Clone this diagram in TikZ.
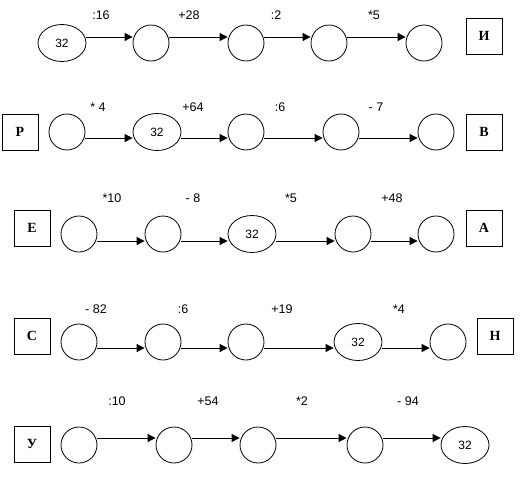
\documentclass[tikz,border=0pt]{standalone}
\usepackage{fontspec}
\setmainfont{Liberation Serif}
\setsansfont{Liberation Sans}
\usetikzlibrary{arrows.meta,shapes.geometric}

\tikzset{
  num/.style={circle, draw, minimum size=36pt, inner sep=0pt},
  start/.style={ellipse, draw, minimum width=48pt, minimum height=37pt,
    inner sep=0pt, font=\sffamily\fontsize{12}{12}\selectfont},
  letter/.style={rectangle, draw, minimum width=36pt, minimum height=36pt,
    inner sep=0pt, font=\bfseries\fontsize{14}{14}\selectfont},
  op/.style={font=\sffamily\fontsize{12.5}{12.5}\selectfont},
  arr/.style={-{Triangle[length=8pt,width=8pt]}}
}

\begin{document}
\begin{tikzpicture}[x=1pt, y=-1pt, line width=0.8pt]
\useasboundingbox (0,0) rectangle (528,490);

    % Row 1
    \node[start] (a1) at (62,43) {32};
    \node[num] (a2) at (151,43) {};
    \node[num] (a3) at (246,43) {};
    \node[num] (a4) at (329,43) {};
    \node[num] (a5) at (424,43) {};
    \node[letter] (la) at (484,36) {И};
    \draw[arr] ([yshift=6pt]a1.east) -- ([yshift=6pt]a2.west);
    \draw[arr] ([yshift=6pt]a2.east) -- ([yshift=6pt]a3.west);
    \draw[arr] ([yshift=6pt]a3.east) -- ([yshift=6pt]a4.west);
    \draw[arr] ([yshift=6pt]a4.east) -- ([yshift=6pt]a5.west);
    \node[op] (oa1) at (101,15) {:16};
    \node[op] (oa2) at (189,15) {+28};
    \node[op] (oa3) at (276,15) {:2};
    \node[op] (oa4) at (374,15) {*5};

    % Row 2
    \node[letter] (lb1) at (20,132) {Р};
    \node[num] (b1) at (67,132) {};
    \node[start] (b2) at (157,132) {32};
    \node[num] (b3) at (246,132) {};
    \node[num] (b4) at (341,132) {};
    \node[num] (b5) at (436,132) {};
    \node[letter] (lb2) at (484,132) {В};
    \draw[arr] ([yshift=-6pt]b1.east) -- ([yshift=-6pt]b2.west);
    \draw[arr] ([yshift=-6pt]b2.east) -- ([yshift=-6pt]b3.west);
    \draw[arr] ([yshift=-6pt]b3.east) -- ([yshift=-6pt]b4.west);
    \draw[arr] ([yshift=-6pt]b4.east) -- ([yshift=-6pt]b5.west);
    \node[op] (ob1) at (98,107) {* 4};
    \node[op] (ob2) at (193,107) {+64};
    \node[op] (ob3) at (280,107) {:6};
    \node[op] (ob4) at (376,107) {- 7};

    % Row 3
    \node[letter] (lc1) at (32,228) {Е};
    \node[num] (c1) at (79,234) {};
    \node[num] (c2) at (163,234) {};
    \node[start] (c3) at (252,234) {32};
    \node[num] (c4) at (353,234) {};
    \node[num] (c5) at (436,234) {};
    \node[letter] (lc2) at (484,228) {А};
    \draw[arr] ([yshift=-7pt]c1.east) -- ([yshift=-7pt]c2.west);
    \draw[arr] ([yshift=-7pt]c2.east) -- ([yshift=-7pt]c3.west);
    \draw[arr] ([yshift=-7pt]c3.east) -- ([yshift=-7pt]c4.west);
    \draw[arr] ([yshift=-7pt]c4.east) -- ([yshift=-7pt]c5.west);
    \node[op] (oc1) at (112,198) {*10};
    \node[op] (oc2) at (193,198) {- 8};
    \node[op] (oc3) at (291,198) {*5};
    \node[op] (oc4) at (392,198) {+48};

    % Row 4
    \node[letter] (ld1) at (32,336) {С};
    \node[num] (d1) at (79,342) {};
    \node[num] (d2) at (163,342) {};
    \node[num] (d3) at (246,342) {};
    \node[start] (d4) at (358,342) {32};
    \node[num] (d5) at (448,342) {};
    \node[letter] (ld2) at (495,336) {Н};
    \draw[arr] ([yshift=-6pt]d1.east) -- ([yshift=-6pt]d2.west);
    \draw[arr] ([yshift=-6pt]d2.east) -- ([yshift=-6pt]d3.west);
    \draw[arr] ([yshift=-6pt]d3.east) -- ([yshift=-6pt]d4.west);
    \draw[arr] ([yshift=-6pt]d4.east) -- ([yshift=-6pt]d5.west);
    \node[op] (od1) at (96,309) {- 82};
    \node[op] (od2) at (183,309) {:6};
    \node[op] (od3) at (282,309) {+19};
    \node[op] (od4) at (399,309) {*4};

    % Row 5
    \node[letter] (le1) at (32,444) {У};
    \node[num] (e1) at (79,445) {};
    \node[num] (e2) at (174,445) {};
    \node[num] (e3) at (258,445) {};
    \node[num] (e4) at (365,445) {};
    \node[start] (e5) at (465,445) {32};
    \draw[arr] ([yshift=7pt]e1.east) -- ([yshift=7pt]e2.west);
    \draw[arr] ([yshift=7pt]e2.east) -- ([yshift=7pt]e3.west);
    \draw[arr] ([yshift=7pt]e3.east) -- ([yshift=7pt]e4.west);
    \draw[arr] ([yshift=7pt]e4.east) -- ([yshift=7pt]e5.west);
    \node[op] (oe1) at (117,401) {:10};
    \node[op] (oe2) at (208,401) {+54};
    \node[op] (oe3) at (302,401) {*2};
    \node[op] (oe4) at (408,401) {- 94};

\end{tikzpicture}
\end{document}
